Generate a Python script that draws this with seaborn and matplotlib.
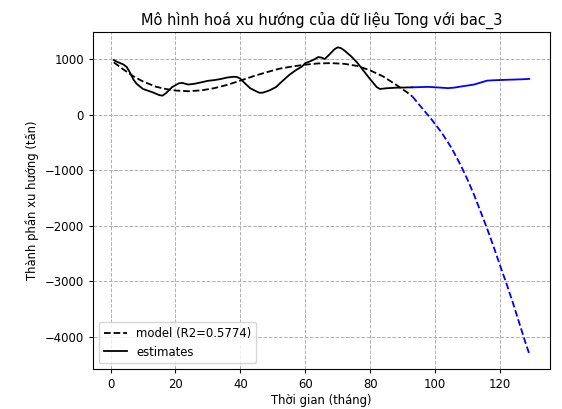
import numpy as np
import pandas as pd
import matplotlib
matplotlib.use("Agg")
import matplotlib.pyplot as plt
import seaborn as sns

# trend estimates (history), months and tonnes
est_month = [1, 2, 3, 4, 5, 6, 7, 8, 10, 12, 13, 15, 16, 17, 19, 21, 22, 24, 26, 28,
             30, 32, 34, 36, 38, 39, 40, 41, 43, 45, 46, 47, 49, 51, 53, 55, 57, 59, 60, 62,
             63, 64, 65, 66, 67, 68, 69, 70, 71, 72, 73, 74, 76, 78, 80, 81, 82, 83, 85, 88,
             91, 93]
est_value = [985, 955, 930, 905, 860, 760, 640, 560, 465, 425, 405, 355, 345, 385, 500, 565, 575, 545, 560, 585,
             612, 625, 645, 672, 685, 680, 650, 590, 480, 420, 395, 400, 440, 500, 610, 715, 800, 870, 930, 975,
             1005, 1040, 1030, 1005, 1060, 1120, 1180, 1215, 1200, 1160, 1110, 1060, 940, 790, 640, 570, 500, 465, 478, 488,
             492, 495]

# trend continuation (forecast)
fc_month = [93, 95, 98, 101, 104, 106, 108, 110, 112, 114, 116, 118, 121, 124, 127, 129]
fc_value = [495, 498, 503, 492, 480, 490, 510, 527, 545, 580, 615, 622, 628, 634, 640, 647]

# cubic model fitted on history
model_month = [1, 4, 7, 10, 14, 17, 20, 24, 28, 32, 36, 40, 44, 48, 52, 56, 60, 64, 68, 72,
               76, 80, 84, 88, 91, 93]
model_value = [945, 815, 695, 600, 505, 465, 437, 425, 440, 480, 540, 615, 695, 765, 830, 870, 903, 925, 930, 918,
               880, 800, 690, 540, 420, 330]

# model extrapolation
model_fc_month = [93, 96, 99, 102, 105, 108, 110, 112, 114, 116, 118, 120, 122, 124, 126, 128, 129]
model_fc_value = [330, 120, -90, -320, -590, -920, -1170, -1440, -1740, -2045, -2370, -2710, -3040, -3390, -3760, -4130, -4300]

r2 = 0.5774

# reference looks like a downscaled render, so everything is ~0.84 of default
plt.rcParams["font.size"] = 8.4
plt.rcParams["lines.linewidth"] = 1.3
plt.rcParams["xtick.major.size"] = 3
plt.rcParams["ytick.major.size"] = 3
plt.rcParams["axes.linewidth"] = 0.8

fig = plt.figure(figsize=(5.62, 4.09), dpi=100)
ax = fig.add_axes([93 / 562, 1 - 369 / 409, 457 / 562, 337 / 409])

sns.lineplot(x=model_month, y=model_value, ax=ax, color="k", linestyle="--",
             label=f"model (R2={r2})")
sns.lineplot(x=est_month, y=est_value, ax=ax, color="k", label="estimates")
sns.lineplot(x=model_fc_month, y=model_fc_value, ax=ax, color="b", linestyle="--")
sns.lineplot(x=fc_month, y=fc_value, ax=ax, color="b")

ax.set_title("Mô hình hoá xu hướng của dữ liệu Tong với bac_3", fontsize=10.5, pad=5)
ax.set_xlabel("Thời gian (tháng)", labelpad=2)
ax.set_ylabel("Thành phần xu hướng (tấn)")
ax.grid(True, linestyle="--", linewidth=0.7)
ax.legend(loc="lower left")

fig.savefig("out.png", dpi=100)
